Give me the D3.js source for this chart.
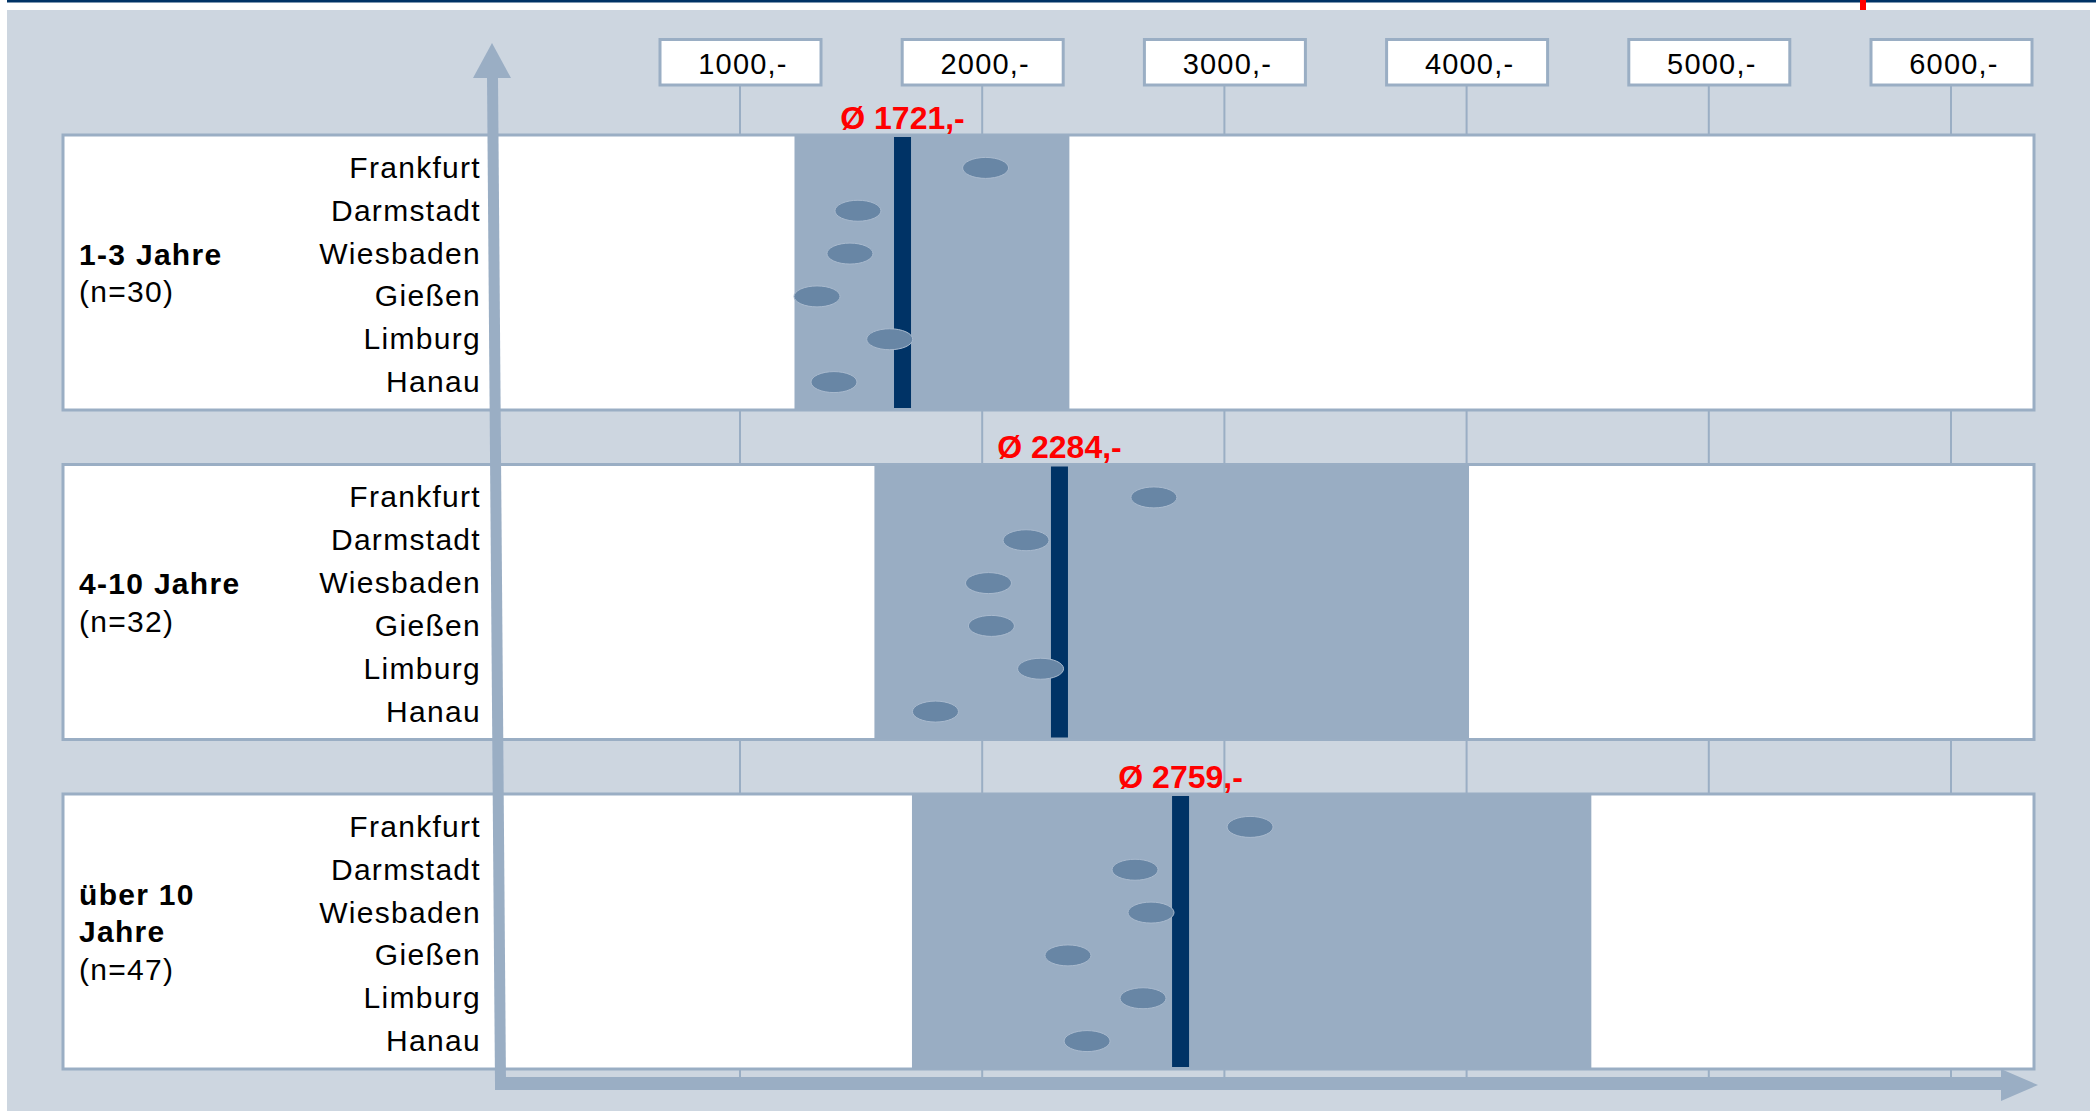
<!DOCTYPE html>
<html>
<head>
<meta charset="utf-8">
<script src="https://cdn.jsdelivr.net/npm/d3@7"></script>
<style>
  html, body { margin: 0; padding: 0; background: #ffffff; }
  svg { display: block; }
  text { font-family: "Liberation Sans", Arial, sans-serif; }
</style>
</head>
<body>
<script>
// ---------- data ----------
const cities = ["Frankfurt", "Darmstadt", "Wiesbaden", "Gießen", "Limburg", "Hanau"];
const groups = ["1-3 Jahre", "4-10 Jahre", "über 10 Jahre"];
const groupLines = [["1-3 Jahre"], ["4-10 Jahre"], ["über 10", "Jahre"]];
const groupN = [30, 32, 47];
const income1to3 = [2014, 1487, 1454, 1318, 1618, 1388];
const income4to10 = [2709, 2181, 2026, 2038, 2241, 1807];
const incomeOver10 = [3106, 2631, 2697, 2354, 2664, 2433];
const rangeLow = [1225, 1555, 1710];
const rangeHigh = [2360, 4010, 4515];
const meanValues = [1721, 2284, 2759];
const meanLineAt = [1671, 2319, 2819];   // where the mean bar is drawn in the picture
const tickValues = [1000, 2000, 3000, 4000, 5000, 6000];
const tickLabels = ["1000,-", "2000,-", "3000,-", "4000,-", "5000,-", "6000,-"];

const seriesByGroup = [income1to3, income4to10, incomeOver10];

// ---------- style ----------
const W = 2096, H = 1111;
const C = {
  bg: "#cdd6e0",
  line: "#9aaec4",
  shade: "#99adc3",
  dot: "#6886a5",
  dotStroke: "#a9bace",
  navy: "#003366",
  red: "#ff0000"
};

const svg = d3.select("body").append("svg").attr("width", W).attr("height", H);

// scales
const x = d3.scaleLinear().domain([1000, 6000]).range([740, 1951]);
const yPanel = d3.scaleBand().domain(groups).range([135, 1069]).paddingInner(0.1654);
const yRow = d3.scaleBand().domain(cities).range([11.5, 268.5]);
const panelLeft = 63, panelRight = 2034;

// top decoration
svg.append("rect").attr("x", 7).attr("y", 0).attr("width", W - 7).attr("height", 2.5).attr("fill", C.navy);
svg.append("rect").attr("x", 1860).attr("y", 0).attr("width", 6).attr("height", 10).attr("fill", C.red);

// background
svg.append("rect").attr("x", 7).attr("y", 10).attr("width", 2083).attr("height", H - 10).attr("fill", C.bg);

// grid/tick lines
svg.append("g").selectAll("line").data(tickValues).join("line")
  .attr("x1", d => x(d)).attr("x2", d => x(d))
  .attr("y1", 86).attr("y2", 1077)
  .attr("stroke", C.line).attr("stroke-width", 2);

// tick label boxes
const tb = svg.append("g").selectAll("g").data(tickValues).join("g")
  .attr("transform", d => `translate(${x(d)},0)`);
tb.append("rect").attr("x", -80).attr("y", 39.5).attr("width", 161).attr("height", 45.5)
  .attr("fill", "#ffffff").attr("stroke", C.line).attr("stroke-width", 3);
tb.append("text").attr("x", 3).attr("y", 74).attr("text-anchor", "middle")
  .attr("font-size", 29).style("letter-spacing", "1.2px").attr("fill", "#000")
  .text((d, i) => tickLabels[i]);

// panels
const panels = svg.append("g").selectAll("g").data(groups).join("g")
  .attr("transform", d => `translate(0,${yPanel(d)})`);
const ph = yPanel.bandwidth();

panels.append("rect").attr("x", panelLeft).attr("y", 0)
  .attr("width", panelRight - panelLeft).attr("height", ph)
  .attr("fill", "#ffffff").attr("stroke", C.line).attr("stroke-width", 3);

// range shading
panels.append("rect")
  .attr("x", (d, i) => x(rangeLow[i]))
  .attr("width", (d, i) => x(rangeHigh[i]) - x(rangeLow[i]))
  .attr("y", 0).attr("height", ph)
  .attr("fill", C.shade);

// mean bar
panels.append("rect")
  .attr("x", (d, i) => x(meanLineAt[i]) - 8.5)
  .attr("width", 17)
  .attr("y", 2).attr("height", ph - 4)
  .attr("fill", C.navy);

// mean labels
panels.append("text")
  .attr("x", (d, i) => x(meanLineAt[i]))
  .attr("y", -6)
  .attr("text-anchor", "middle")
  .attr("font-size", 32).attr("font-weight", "bold").attr("fill", C.red)
  .text((d, i) => `Ø ${meanValues[i]},-`);

// dots
panels.each(function (g, gi) {
  d3.select(this).append("g").selectAll("ellipse").data(seriesByGroup[gi]).join("ellipse")
    .attr("cx", d => x(d))
    .attr("cy", (d, i) => yRow(cities[i]) + yRow.bandwidth() / 2)
    .attr("rx", 23).attr("ry", 10.5)
    .attr("fill", C.dot).attr("stroke", C.dotStroke).attr("stroke-width", 1);
});

// city labels
panels.append("g").selectAll("text").data(cities).join("text")
  .attr("x", 481)
  .attr("y", d => yRow(d) + yRow.bandwidth() / 2 + 10)
  .attr("text-anchor", "end")
  .attr("font-size", 30).style("letter-spacing", "1.3px").attr("fill", "#000")
  .text(d => d);

// group labels
panels.each(function (g, gi) {
  const lines = groupLines[gi].map(t => ({ t, bold: true })).concat([{ t: `(n=${groupN[gi]})`, bold: false }]);
  const n = lines.length;
  const center = ph / 2;
  d3.select(this).append("g").selectAll("text").data(lines).join("text")
    .attr("x", 79)
    .attr("y", (d, i) => center + 11 + (i - (n - 1) / 2) * 37.5)
    .attr("font-size", 30).style("letter-spacing", "1.3px")
    .attr("font-weight", d => d.bold ? "bold" : "normal")
    .attr("fill", "#000")
    .text(d => d.t);
});

// axes arrows
const axisG = svg.append("g").attr("fill", C.line).attr("stroke", "none");
// vertical shaft
axisG.append("line").attr("x1", 492.5).attr("y1", 76).attr("x2", 500.5).attr("y2", 1085)
  .attr("stroke", C.line).attr("stroke-width", 11);
axisG.append("path").attr("d", "M492,43 L511,78 L473,78 Z");
// horizontal shaft
axisG.append("rect").attr("x", 495).attr("y", 1077).attr("width", 1508).attr("height", 13);
axisG.append("path").attr("d", "M2001,1069 L2038,1085 L2001,1101 Z");
</script>
</body>
</html>
